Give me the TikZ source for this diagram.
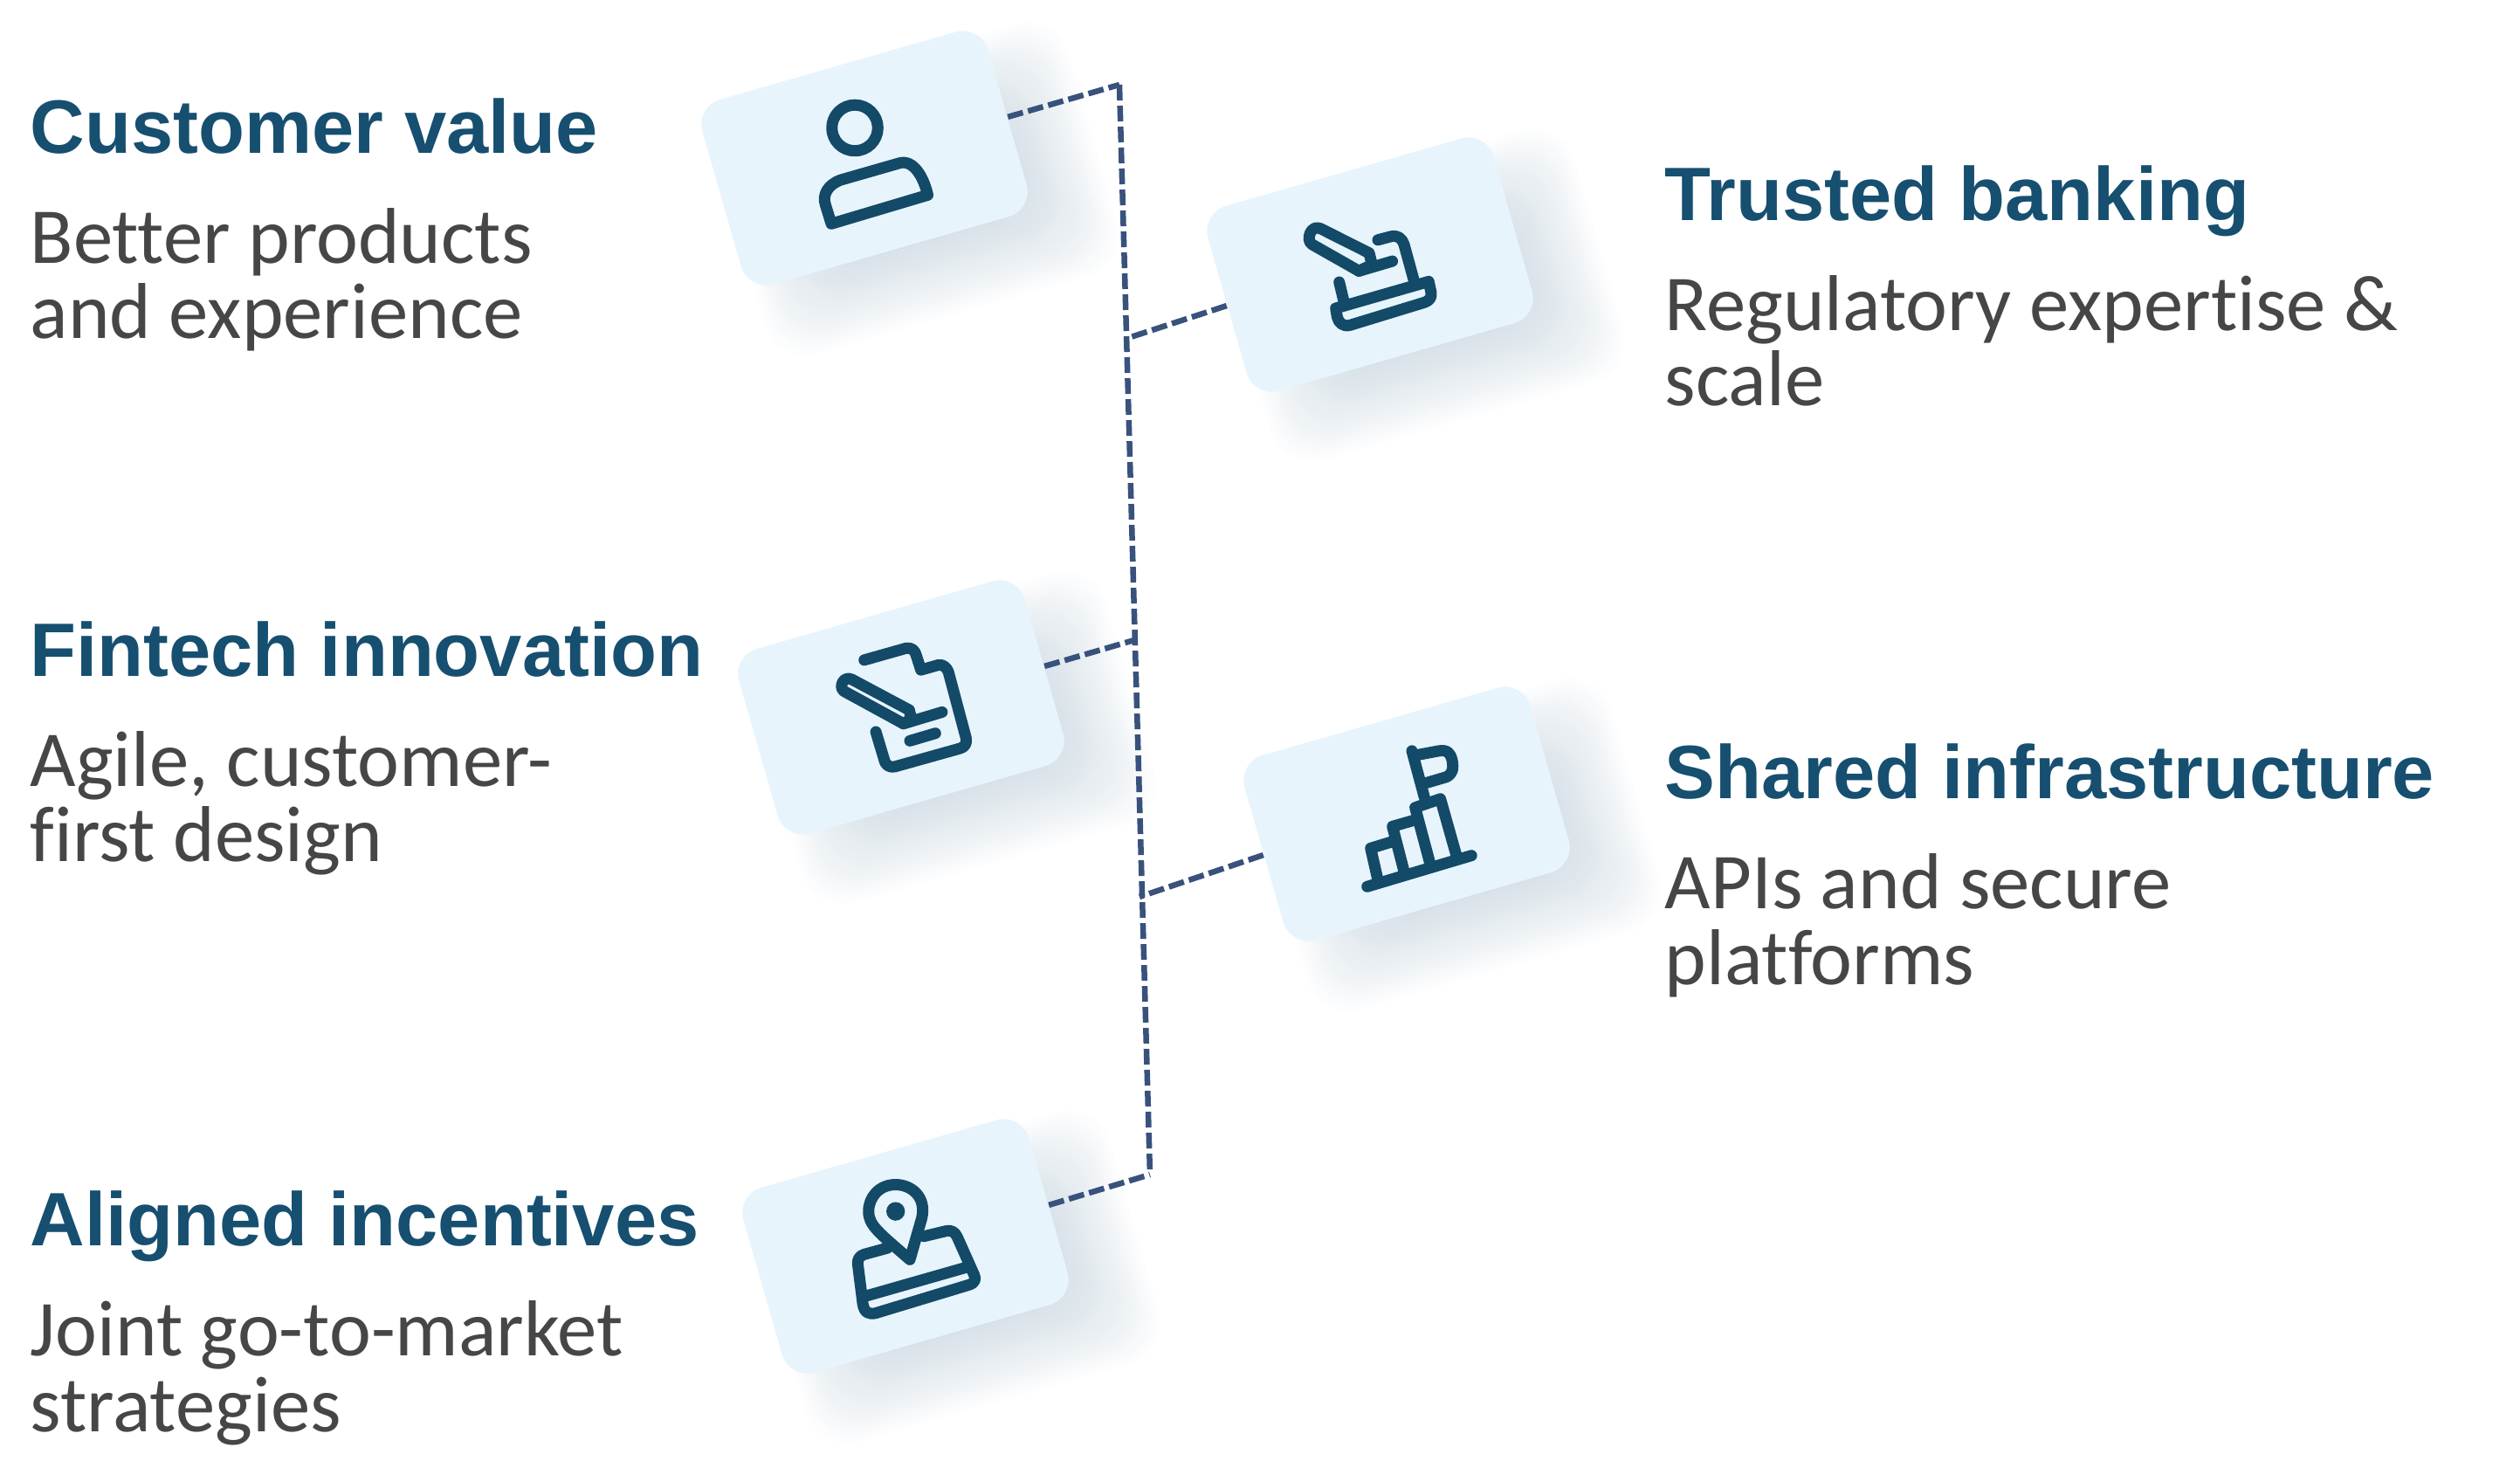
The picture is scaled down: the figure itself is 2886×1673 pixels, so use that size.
\documentclass[tikz,border=0pt]{standalone}
\usepackage{fontspec}
\setmainfont{Liberation Sans}
\newfontfamily\bodyfont{Carlito}[Ligatures=NoCommon]
\definecolor{CARD}{HTML}{E8F4FC}
\definecolor{SHADE}{HTML}{7D9DB3}
\definecolor{INK}{HTML}{134A68}
\definecolor{TITLE}{HTML}{164F70}
\definecolor{BODY}{HTML}{464646}
\definecolor{WIRE}{HTML}{38527C}
\newcommand{\cardshade}[2]{%
	\foreach \s in {40,36,...,-80} {
		\fill [SHADE, opacity=.016, shift={(#1+60,#2+35)}, rotate=16, rounded corners=.5cm]
			(-170-\s,-110-\s) rectangle (170+\s,110+\s);
	}
}
\tikzset{
	card/.style={fill=CARD, rotate=16, rounded corners=.3cm, minimum width=3.4cm, minimum height=2.2cm},
	head/.style={anchor=base west, inner sep=0, text=TITLE, font=\bfseries\fontsize{24.65}{28}\selectfont},
	note/.style={anchor=base west, inner sep=0, text=BODY, align=left, font=\bodyfont\fontsize{25.8}{24.5}\selectfont},
	wire/.style={WIRE, line width=.065cm, dash pattern=on .18cm off .06cm},
	icon/.style={INK, line width=.13cm, line cap=round, line join=round},
	trace/.style={x=.003333cm, y=-.003333cm}
}
\begin{document}
\begin{tikzpicture}[x=.01cm, y=-.01cm]
	\useasboundingbox (0,0) rectangle (2886,1673);

	\cardshade{990}{181}
	\cardshade{1569}{303}
	\cardshade{1032}{810}
	\cardshade{1611}{932}
	\cardshade{1037}{1427}

	\node [card] (valuecard) at (990,181) {};
	\node [card] (bankcard) at (1569,303) {};
	\node [card] (fintechcard) at (1032,810) {};
	\node [card] (infracard) at (1611,932) {};
	\node [card] (aligncard) at (1037,1427) {};

	\coordinate (spinetop) at (1282,97);
	\coordinate (bankjoin) at (1292,387);
	\coordinate (fintechjoin) at (1299,733);
	\coordinate (infrajoin) at (1305,1027);
	\coordinate (spineend) at (1317,1345);

	\draw [wire] (spinetop) -- (spineend);
	\draw [wire] (valuecard.east) -- (spinetop);
	\draw [wire] (bankcard.west) -- (bankjoin);
	\draw [wire] (fintechcard.east) -- (fintechjoin);
	\draw [wire] (infracard.west) -- (infrajoin);
	\draw [wire] (aligncard.east) -- (spineend);

	\begin{scope}[shift={(780,20)}, trace]
		\draw [icon] (598,380) circle (79);
		\draw [icon] (517,710) -- (849,611) .. controls (835,550) and (800,488) .. (752,501) -- (550,559) .. controls (505,575) and (485,610) .. (497,645) -- cycle;
	\end{scope}

	\begin{scope}[shift={(1360,140)}, trace]
		\draw [icon] (590,512) -- (428,420) .. controls (405,405) and (425,350) .. (458,366) -- (625,450) -- (635,490) -- cycle;
		\draw [icon] (590,512) -- (705,478);
		\draw [icon] (655,405) -- (700,393) .. controls (725,388) and (738,400) .. (745,420) -- (782,555);
		\draw [icon] (522,550) -- (540,625);
		\draw [icon] (510,640) -- (830,548) -- (838,585) .. controls (842,605) and (830,615) .. (815,620) -- (560,698) .. controls (535,705) and (520,690) .. (515,670) -- cycle;
	\end{scope}

	\begin{scope}[shift={(840,650)}, trace]
		\draw [icon] (450,318) -- (595,277) .. controls (615,275) and (625,285) .. (630,305) -- (645,352) -- (705,335) .. controls (722,332) and (735,345) .. (740,360) -- (800,585) .. controls (805,605) and (795,618) .. (780,622) -- (555,685) .. controls (535,690) and (522,675) .. (520,665) -- (490,565);
		\draw [icon] (585,537) -- (380,425) .. controls (360,410) and (380,370) .. (408,385) -- (605,490) -- (612,520) -- cycle;
		\draw [icon] (585,537) -- (718,497);
		\draw [icon] (607,596) -- (695,570);
	\end{scope}

	\begin{scope}[shift={(1400,770)}, trace]
		\draw [icon] (498,737) -- (857,630);
		\draw [icon] (535,715) -- (510,605) -- (585,582);
		\draw [icon] (625,685) -- (585,530) -- (665,507);
		\draw [icon] (715,660) -- (663,465) -- (750,435) -- (805,630);
		\draw [icon] (652,270) -- (695,430);
		\draw [icon] (665,285) -- (745,270) .. controls (775,265) and (785,280) .. (790,300) .. controls (797,335) and (790,350) .. (770,360) -- (695,382);
	\end{scope}

	\begin{scope}[shift={(840,1270)}, trace]
		\draw [icon] (607,518) -- (648,375) .. controls (665,300) and (610,260) .. (558,260) .. controls (500,260) and (465,305) .. (465,352) .. controls (465,400) and (500,425) .. cycle;
		\fill [INK] (558,352) circle (32);
		\draw [icon] (530,478) -- (450,500) .. controls (432,505) and (426,520) .. (428,535) -- (445,670) .. controls (450,700) and (465,708) .. (490,702) -- (810,605) .. controls (832,598) and (835,585) .. (828,570) -- (770,440) .. controls (762,422) and (748,415) .. (730,420) -- (655,438);
		\draw [icon] (450,645) -- (800,545);
	\end{scope}

	\node [head] (valuehead) at (34,176) {Customer value};
	\node [note] (valuenote) at (34,388) {Better products\\and experience};

	\node [head] (bankhead) at (1906,253) {Trusted banking};
	\node [note] (banknote) at (1906,465) {Regulatory expertise \&\\scale};

	\node [head] (fintechhead) at (34,775) {Fintech innovation};
	\node [note] (fintechnote) at (34,987) {Agile, customer-\\first design};

	\node [head] (infrahead) at (1906,915) {Shared infrastructure};
	\node [note] (infranote) at (1906,1127) {APIs and secure\\platforms};

	\node [head] (alignhead) at (34,1426) {Aligned incentives};
	\node [note] (alignnote) at (34,1639) {Joint go-to-market\\strategies};
\end{tikzpicture}
\end{document}
